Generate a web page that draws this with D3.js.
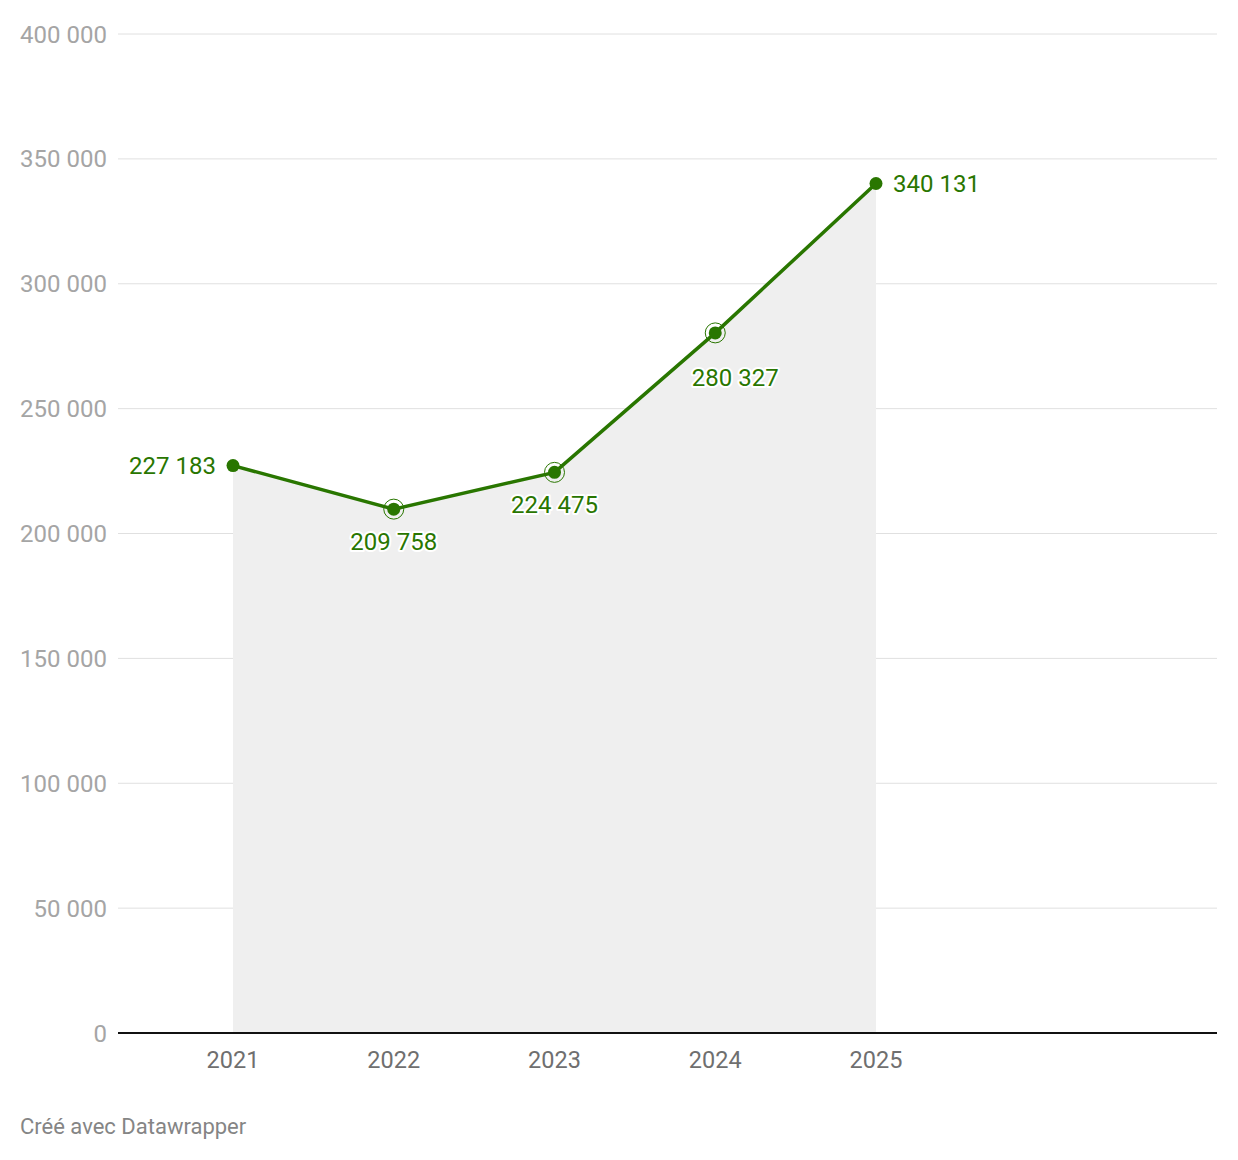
<!DOCTYPE html>
<html><head><meta charset="utf-8">
<script src="https://cdn.jsdelivr.net/npm/d3@7"></script>
<style>body{margin:0;background:#fff;font-family:Roboto,sans-serif;}</style>
</head><body>
<svg id="c" width="1238" height="1160"></svg>
<script>
const years = [2021, 2022, 2023, 2024, 2025];
const values = [227183, 209758, 224475, 280327, 340131];
const yTicks = [0, 50000, 100000, 150000, 200000, 250000, 300000, 350000, 400000];
const labelPos = ["left", "below", "below", "below", "right"];
const ringed = [false, true, true, true, false];

const svg = d3.select("#c");
const x = d3.scaleLinear().domain([2021, 2025]).range([233, 876]);
const y = d3.scaleLinear().domain([0, 400000]).range([1033, 34]);
const fmt = v => d3.format(",")(v).replace(/,/g, " ");
const green = "#297600";
const left = 118, right = 1217;

// gridlines
svg.append("g").selectAll("line").data(yTicks.filter(d => d > 0)).join("line")
  .attr("x1", left).attr("x2", right).attr("y1", d => y(d)).attr("y2", d => y(d))
  .attr("stroke", "#e0e0e0").attr("stroke-width", 1);
svg.append("g").selectAll("text").data(yTicks).join("text")
  .attr("x", 107).attr("y", d => y(d) + 8.5).attr("text-anchor", "end")
  .attr("fill", "#a5a5a5").style("font-size", "24px").text(fmt);

const data = years.map((yr, i) => ({yr, v: values[i], i}));
// area
svg.append("path").datum(data)
  .attr("d", d3.area().x(d => x(d.yr)).y0(y(0)).y1(d => y(d.v)))
  .attr("fill", "#efefef");

// baseline
svg.append("line").attr("x1", left).attr("x2", right).attr("y1", y(0)).attr("y2", y(0))
  .attr("stroke", "#111").attr("stroke-width", 2);

// x labels
svg.append("g").selectAll("text").data(years).join("text")
  .attr("x", d => x(d)).attr("y", 1068).attr("text-anchor", "middle")
  .attr("fill", "#6f6f6f").style("font-size", "23.5px").text(d => d);

// line
svg.append("path").datum(data)
  .attr("d", d3.line().x(d => x(d.yr)).y(d => y(d.v)))
  .attr("fill", "none").attr("stroke", green).attr("stroke-width", 3.5);

// rings
svg.append("g").selectAll("circle").data(data.filter(d => ringed[d.i])).join("circle")
  .attr("cx", d => x(d.yr)).attr("cy", d => y(d.v)).attr("r", 10)
  .attr("fill", "none").attr("stroke", green).attr("stroke-width", 1);
// dots
svg.append("g").selectAll("circle").data(data).join("circle")
  .attr("cx", d => x(d.yr)).attr("cy", d => y(d.v)).attr("r", 6.5).attr("fill", green);

// value labels
const lab = svg.append("g").selectAll("text").data(data).join("text")
  .attr("x", d => {
    const p = labelPos[d.i], cx = x(d.yr);
    if (p === "left") return cx - 17;
    if (p === "right") return cx + 17;
    return d.i === 3 ? cx + 20 : cx;
  })
  .attr("y", d => {
    const p = labelPos[d.i], cy = y(d.v);
    if (p === "below") return cy + (d.i === 3 ? 53 : 41);
    return cy + 8;
  })
  .attr("text-anchor", d => labelPos[d.i] === "left" ? "end" : labelPos[d.i] === "right" ? "start" : "middle")
  .style("font-size", "24px").attr("fill", green)
  .attr("stroke", "#fff").attr("stroke-width", 4).attr("paint-order", "stroke").attr("stroke-linejoin", "round")
  .text(d => fmt(d.v));

// footer
svg.append("text").attr("x", 20).attr("y", 1134).attr("fill", "#858585")
  .style("font-size", "22px").text("Créé avec Datawrapper");
</script>
</body></html>
